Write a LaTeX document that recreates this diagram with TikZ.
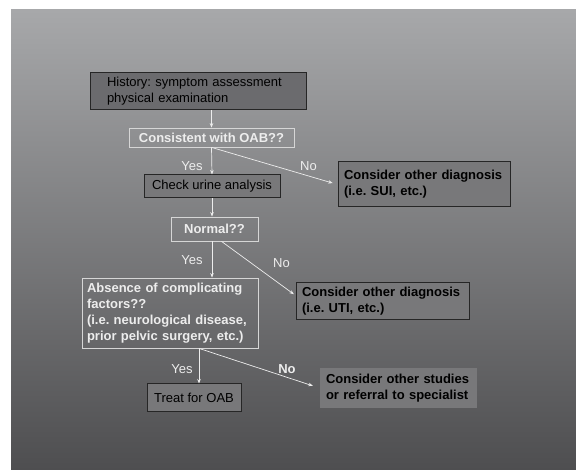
\documentclass[tikz,border=0pt]{standalone}
\usepackage{fontspec}
\setmainfont{Liberation Sans}
\usetikzlibrary{calc, arrows.meta}
\frenchspacing

\definecolor{boxgray}{HTML}{78787A}
\definecolor{histgray}{HTML}{6B6B6E}
\definecolor{boxedge}{HTML}{262626}
\definecolor{askedge}{HTML}{D6D6D6}
\definecolor{askwhite}{HTML}{EDEDED}
\definecolor{bgtop}{HTML}{A7A8AA}
\definecolor{bgbottom}{HTML}{4E4E50}

\begin{document}
\begin{tikzpicture}[x=1pt, y=-1pt, font=\fontsize{13}{16}\selectfont,
  >={Stealth[length=4.5pt,width=3.5pt]},
  actbox/.style={draw=boxedge, line width=1pt, fill=boxgray, text=black, inner ysep=0pt},
  askbox/.style={draw=askedge, line width=0.8pt, text=askwhite, font=\fontsize{13}{16}\selectfont\bfseries, inner sep=0pt},
  flow/.style={->, draw=askwhite, line width=0.7pt},
  yesno/.style={text=askwhite, inner sep=1pt}]
  \useasboundingbox (0,0) rectangle (576,470);
  \fill[top color=bgtop, bottom color=bgbottom] (11,10) rectangle (576,470);

  % boxes
  \node[actbox, fill=histgray, text width=182pt, inner xsep=17pt, minimum height=37pt, align=left]
    (hist) at (198,91.5) {History: symptom assessment\\physical examination};
  \node[askbox, minimum width=165pt, minimum height=19pt] (cons) at (211.5,137.5) {Consistent with OAB??};
  \node[actbox, minimum width=136pt, minimum height=23pt] (check) at (212,186.5) {Check urine analysis};
  \node[actbox, font=\fontsize{13}{16}\selectfont\bfseries, text width=160pt, inner xsep=6pt, minimum height=45pt, align=left]
    (sui) at (424,184.5) {Consider other diagnosis\\(i.e. SUI, etc.)};
  \node[askbox, minimum width=87pt, minimum height=24pt] (normal) at (214.5,229) {Normal??};
  \node[actbox, font=\fontsize{13}{16}\selectfont\bfseries, text width=161pt, inner xsep=6pt, minimum height=37pt, align=left]
    (uti) at (382.5,301.5) {Consider other diagnosis\\(i.e. UTI, etc.)};
  \node[askbox, text width=166pt, inner xsep=5pt, minimum height=70pt, align=left]
    (absence) at (170,313) {Absence of complicating\\factors??\\(i.e. neurological disease,\\prior pelvic surgery, etc.)};
  \node[actbox, minimum width=94pt, minimum height=28pt] (treat) at (194,398) {Treat for OAB};
  \node[actbox, draw=none, font=\fontsize{13}{16}\selectfont\bfseries, text width=145pt, inner xsep=6pt, minimum height=40pt, align=left]
    (other) at (398.5,388) {Consider other studies\\or referral to specialist};

  % connectors
  \draw[flow] (cons.north |- hist.south) -- (cons.north);
  \draw[flow] (cons.south) -- node[yesno, pos=0.68, left=8pt] {Yes} (check.north);
  \draw[flow, shorten >=5pt] (cons.south) -- node[yesno, pos=0.77, above=4pt] {No} (sui.west);
  \draw[flow] (check.south) -- (check.south |- normal.north);
  \draw[flow] (check.south |- normal.south) -- node[yesno, pos=0.53, left=8pt] {Yes} (check.south |- absence.north);
  \draw[flow, shorten >=2pt] ($(normal.south)+(7,0)$) -- node[yesno, pos=0.41, right=20pt] {No} (uti.176);
  \coordinate (fork) at ($(absence.south)+(29,0)$);
  \draw[flow] (fork) -- node[yesno, pos=0.58, left=5pt] {Yes} (fork |- treat.north);
  \draw[flow, shorten >=7pt] (fork) -- node[yesno, font=\fontsize{13}{16}\selectfont\bfseries, pos=0.73, above=2pt] {No} (other.west);
\end{tikzpicture}
\end{document}
